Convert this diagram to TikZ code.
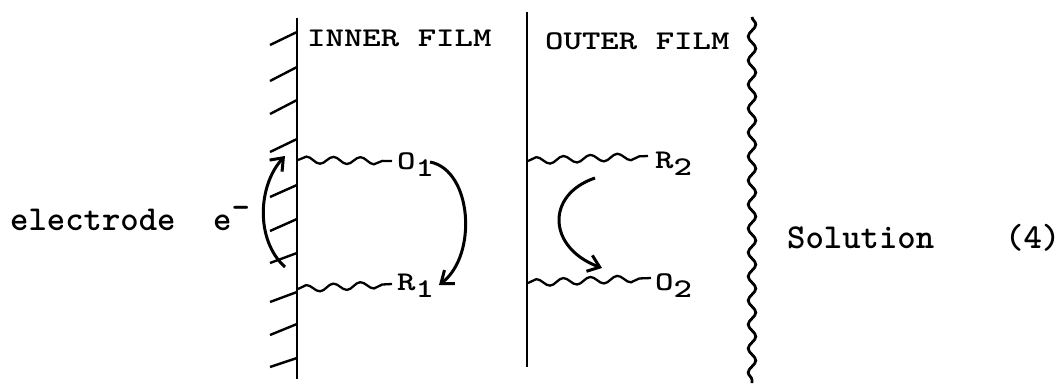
\documentclass[tikz,border=0pt]{standalone}
\usepackage{fontspec}
\newfontfamily\bodyfont{lmmonolt10-bold.otf}
\usetikzlibrary{arrows.meta,decorations.pathmorphing}
\newcommand{\lowsub}[1]{\raisebox{-7pt}{#1}}
\newcommand{\wide}[1]{\scalebox{1.3}[1]{#1}}
\begin{document}
\begin{tikzpicture}[x=1pt,y=-1pt,
  body/.style={anchor=base west,inner sep=0pt,font=\bodyfont\fontsize{35}{40}\selectfont},
  lab/.style={anchor=base west,inner sep=0pt,font=\bodyfont\fontsize{27}{32}\selectfont},
  wall/.style={line width=2.6pt},
  film/.style={line width=2.4pt},
  hatch/.style={line width=2.4pt},
  chain/.style={line width=2.3pt,decorate,decoration={snake,segment length=27pt,amplitude=3.5pt}},
  solwave/.style={line width=2.8pt,decorate,decoration={snake,segment length=24pt,amplitude=3.8pt}},
  curvearrow/.style={line width=3pt,-{Straight Barb[length=11pt,width=17pt]}},
]
\useasboundingbox (0,0) rectangle (1061,385);
% walls
\coordinate (eTop) at (297,18); \coordinate (eBot) at (297,379);
\draw[wall] (eTop) -- (eBot);
\foreach \a/\b in {32/45,67/81,100/114,139/152,185/197,219/231,253/263,292/302,324/335,358/367}
  \draw[hatch] (297,\a) -- (270,\b);
\coordinate (mTop) at (527,12); \coordinate (mBot) at (527,367);
\draw[film] (mTop) -- (mBot);
\coordinate (sTop) at (752,17); \coordinate (sBot) at (752,383);
\draw[solwave] (sTop) -- (sBot);
% labels
\node[body] (electrode) at (10,230) {electrode};
\node[body] (eminus) at (213,230) {e\raisebox{12pt}{-}};
\node[lab] (inner) at (307,47) {\wide{INNER FILM}};
\node[lab] (outer) at (545,50) {\wide{OUTER FILM}};
\node[lab] (O1) at (397,170) {\wide{O\lowsub{1}}};
\node[lab] (R1) at (397,290) {\wide{R\lowsub{1}}};
\node[lab] (R2) at (655,168) {\wide{R\lowsub{2}}};
\node[lab] (O2) at (655,290) {\wide{O\lowsub{2}}};
\node[body] (sol) at (787,248) {Solution};
\node[body] (eqn) at (1005,248) {(4)};
% chains
\coordinate (cO1a) at (298,160); \coordinate (cO1b) at (392,161);
\coordinate (cR1a) at (298,289); \coordinate (cR1b) at (392,284);
\coordinate (cR2a) at (528,161); \coordinate (cR2b) at (648,156);
\coordinate (cO2a) at (528,283); \coordinate (cO2b) at (651,278);
\draw[chain] (cO1a) -- (cO1b);
\draw[chain] (cR1a) -- (cR1b);
\draw[chain] (cR2a) -- (cR2b);
\draw[chain] (cO2a) -- (cO2b);
% arrows
\coordinate (aE1) at (285,267); \coordinate (aE2) at (285,156);
\draw[curvearrow] (aE1) .. controls (255,240) and (258,185) .. (aE2);
\coordinate (aO1) at (430,162); \coordinate (aR1) at (439,285);
\draw[curvearrow] (aO1) .. controls (472,170) and (478,255) .. (aR1);
\coordinate (aR2) at (595,178); \coordinate (aO2) at (602,268);
\draw[curvearrow] (aR2) .. controls (545,195) and (548,248) .. (aO2);
\end{tikzpicture}
\end{document}
